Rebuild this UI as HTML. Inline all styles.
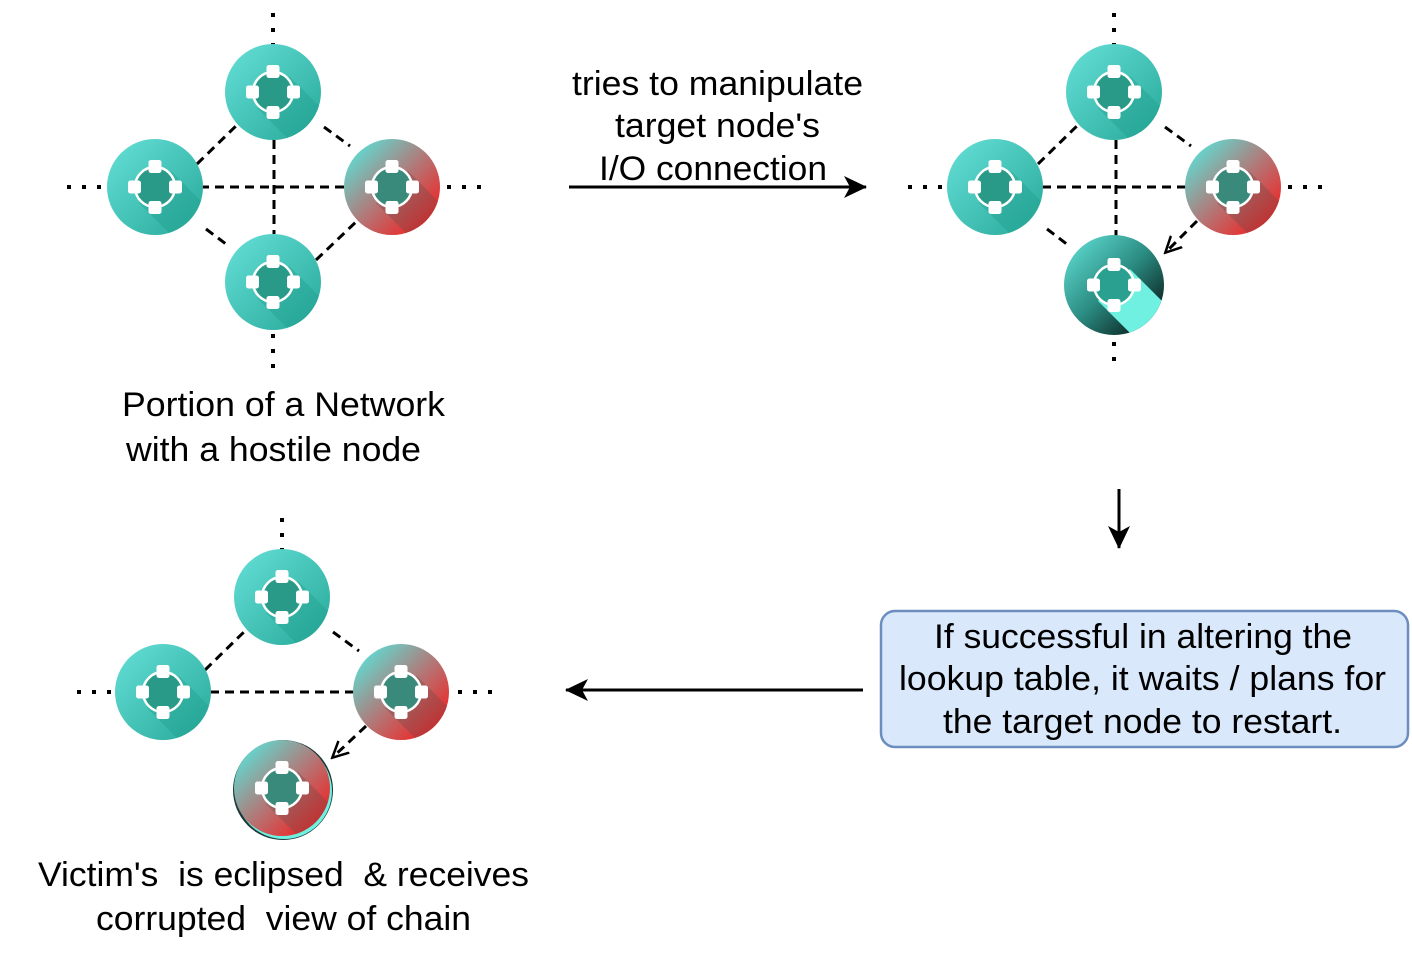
<!DOCTYPE html>
<html><head><meta charset="utf-8"><style>
html,body{margin:0;padding:0;background:#fff;}
svg text{font-family:"Liberation Sans",sans-serif;font-size:34px;fill:#000;}
</style></head><body>
<svg width="1412" height="966" viewBox="0 0 1412 966" xmlns="http://www.w3.org/2000/svg">
<defs>
<linearGradient id="gT" x1="0" y1="0" x2="1" y2="1"><stop offset="0" stop-color="#66e0d8"/><stop offset="1" stop-color="#26a898"/></linearGradient>
<linearGradient id="gR" x1="0.1" y1="0.1" x2="0.9" y2="0.9"><stop offset="0" stop-color="#5fdcd3"/><stop offset="0.55" stop-color="#b87070"/><stop offset="1" stop-color="#f41e1e"/></linearGradient>
<linearGradient id="gD" x1="0" y1="0" x2="1" y2="1"><stop offset="0" stop-color="#66e6dc"/><stop offset="0.5" stop-color="#2a8a80"/><stop offset="1" stop-color="#000"/></linearGradient>
<clipPath id="cc"><circle cx="0" cy="0" r="48"/></clipPath>
<clipPath id="cd"><circle cx="0" cy="0" r="50"/></clipPath>
<g id="icon">
<circle r="20" fill="none" stroke="#fff" stroke-width="2.5"/>
<rect x="-6.5" y="-27" width="13" height="13" rx="2.5" fill="#fff"/>
<rect x="-6.5" y="14" width="13" height="13" rx="2.5" fill="#fff"/>
<rect x="-27" y="-6.5" width="13" height="13" rx="2.5" fill="#fff"/>
<rect x="14" y="-6.5" width="13" height="13" rx="2.5" fill="#fff"/>
</g>
<g id="nT"><circle r="48" fill="url(#gT)"/>
<polygon clip-path="url(#cc)" points="-16,16 16,-16 62,30 30,62" fill="#1e9a8a" opacity="0.35"/>
<circle r="19" fill="#2a9a88"/><use href="#icon"/></g>
<g id="nR"><circle r="48" fill="url(#gR)"/>
<polygon clip-path="url(#cc)" points="-16,16 16,-16 62,30 30,62" fill="#6a4a4a" opacity="0.35"/>
<circle r="19" fill="#3a8a7c"/><use href="#icon"/></g>
<g id="nD"><circle r="50" fill="url(#gD)"/>
<polygon clip-path="url(#cd)" points="-16,16 16,-16 64,32 32,64" fill="#70f0e0"/>
<circle r="19" fill="#2aa090"/><use href="#icon"/></g>
<marker id="ah" markerWidth="24" markerHeight="22" refX="22" refY="11" orient="auto" markerUnits="userSpaceOnUse"><path d="M0,0 L23,11 L0,22 L6,11 Z" fill="#000"/></marker>
<marker id="ao" markerWidth="18" markerHeight="18" refX="15" refY="9" orient="auto" markerUnits="userSpaceOnUse"><path d="M0,1 L16,9 L0,17" fill="none" stroke="#000" stroke-width="2.5"/></marker>
</defs>

<g stroke="#000" stroke-width="3" fill="none">
<g stroke-width="4" stroke-dasharray="4,11">
<line x1="273" y1="13" x2="273" y2="45"/>
<line x1="273" y1="334" x2="273" y2="372"/>
<line x1="67" y1="187" x2="107" y2="187"/>
<line x1="447" y1="187" x2="485" y2="187"/>
<line x1="1114" y1="13" x2="1114" y2="45"/>
<line x1="1114" y1="342" x2="1114" y2="372"/>
<line x1="908" y1="187" x2="948" y2="187"/>
<line x1="1288" y1="187" x2="1326" y2="187"/>
<line x1="282" y1="518" x2="282" y2="550"/>
<line x1="77" y1="692" x2="116" y2="692"/>
<line x1="458" y1="692" x2="494" y2="692"/>
</g>
<g stroke-dasharray="9,6">
<line x1="200" y1="187" x2="345" y2="187"/>
<line x1="274" y1="140" x2="274" y2="234"/>
<line x1="197" y1="164" x2="240" y2="122"/>
<line x1="324" y1="127" x2="350" y2="146"/>
<line x1="206" y1="229" x2="230" y2="247"/>
<line x1="316" y1="260" x2="358" y2="220"/>
<line x1="1042" y1="187" x2="1186" y2="187"/>
<line x1="1116" y1="140" x2="1116" y2="236"/>
<line x1="1038" y1="164" x2="1081" y2="122"/>
<line x1="1165" y1="127" x2="1191" y2="146"/>
<line x1="1047" y1="229" x2="1068" y2="245"/>
<line x1="1197" y1="221" x2="1166" y2="252" marker-end="url(#ao)"/>
<line x1="210" y1="692" x2="355" y2="692"/>
<line x1="205" y1="670" x2="248" y2="628"/>
<line x1="333" y1="632" x2="359" y2="651"/>
<line x1="366" y1="726" x2="333" y2="757" marker-end="url(#ao)"/>
</g>
<line x1="569" y1="187" x2="866" y2="187" marker-end="url(#ah)"/>
<line x1="1119" y1="489" x2="1119" y2="548" marker-end="url(#ah)"/>
<line x1="863" y1="690" x2="566" y2="690" marker-end="url(#ah)"/>
</g>

<use href="#nT" x="273" y="92"/>
<use href="#nT" x="155" y="187"/>
<use href="#nR" x="392" y="187"/>
<use href="#nT" x="273" y="282"/>

<use href="#nT" x="1114" y="92"/>
<use href="#nT" x="995" y="187"/>
<use href="#nR" x="1233" y="187"/>
<use href="#nD" x="1114" y="285"/>

<use href="#nT" x="282" y="597"/>
<use href="#nT" x="163" y="692"/>
<use href="#nR" x="401" y="692"/>
<circle cx="283" cy="790" r="50" fill="#1a3a38"/>
<circle cx="284" cy="791" r="48" fill="#70f0e0"/>
<use href="#nR" x="282" y="788"/>

<rect x="881" y="611" width="527" height="136" rx="14" fill="#dae8fc" stroke="#6c8ebf" stroke-width="2.5"/>

<text x="572" y="95" textLength="291" lengthAdjust="spacingAndGlyphs">tries to manipulate</text>
<text x="615" y="137" textLength="205" lengthAdjust="spacingAndGlyphs">target node's</text>
<text x="599" y="180" textLength="228" lengthAdjust="spacingAndGlyphs">I/O connection</text>
<text x="122" y="416" textLength="323" lengthAdjust="spacingAndGlyphs">Portion of a Network</text>
<text x="126" y="461" textLength="295" lengthAdjust="spacingAndGlyphs">with a hostile node</text>
<text x="934" y="648" textLength="418" lengthAdjust="spacingAndGlyphs">If successful in altering the</text>
<text x="899" y="690" textLength="487" lengthAdjust="spacingAndGlyphs">lookup table, it waits / plans for</text>
<text x="943" y="733" textLength="399" lengthAdjust="spacingAndGlyphs">the target node to restart.</text>
<text x="38" y="886" textLength="491" lengthAdjust="spacingAndGlyphs" xml:space="preserve">Victim's  is eclipsed  &amp; receives</text>
<text x="96" y="930" textLength="375" lengthAdjust="spacingAndGlyphs" xml:space="preserve">corrupted  view of chain</text>
</svg>
</body></html>
